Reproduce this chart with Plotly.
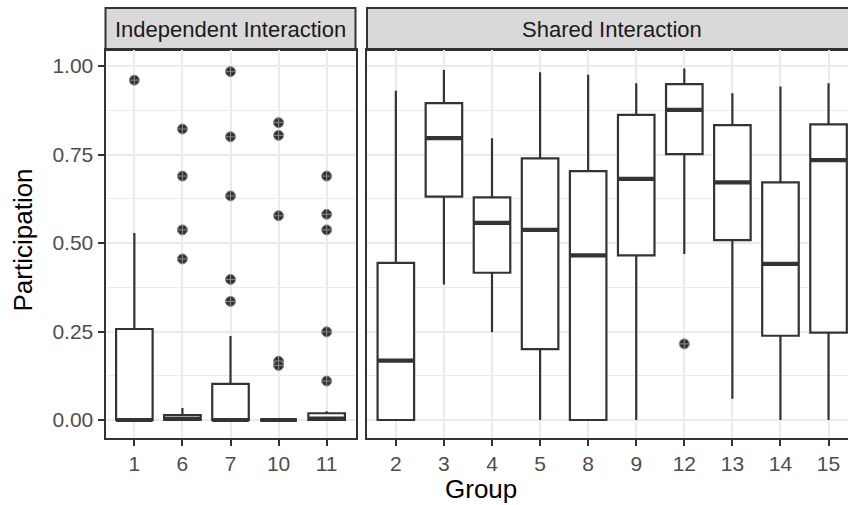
import plotly.graph_objects as go

# ---- data: participation summaries per group -------------------------------
indep_groups = ["1", "6", "7", "10", "11"]
indep_q1 = [0.0, 0.0, 0.0, 0.0, 0.0]
indep_median = [0.0, 0.003, 0.0, 0.0, 0.004]
indep_q3 = [0.257, 0.014, 0.102, 0.0, 0.019]
indep_low = [0.0, 0.0, 0.0, 0.0, 0.0]
indep_high = [0.528, 0.034, 0.237, 0.0, 0.025]
indep_outliers = {
    "1": [0.96],
    "6": [0.822, 0.689, 0.537, 0.455],
    "7": [0.984, 0.80, 0.633, 0.397, 0.335],
    "10": [0.84, 0.804, 0.577, 0.166, 0.154],
    "11": [0.689, 0.581, 0.537, 0.249, 0.110],
}

shared_groups = ["2", "3", "4", "5", "8", "9", "12", "13", "14", "15"]
shared_q1 = [0.0, 0.631, 0.416, 0.200, 0.0, 0.465, 0.751, 0.508, 0.238, 0.247]
shared_median = [0.168, 0.796, 0.557, 0.537, 0.465, 0.681, 0.876, 0.671, 0.441, 0.734]
shared_q3 = [0.444, 0.895, 0.629, 0.739, 0.703, 0.862, 0.949, 0.833, 0.671, 0.835]
shared_low = [0.0, 0.383, 0.248, 0.0, 0.0, 0.0, 0.469, 0.060, 0.0, 0.0]
shared_high = [0.930, 0.989, 0.796, 0.982, 0.975, 0.951, 0.993, 0.923, 0.942, 0.951]
shared_outliers = {"12": [0.215]}

y_ticks = [0.0, 0.25, 0.5, 0.75, 1.0]
y_ticklabels = ["0.00", "0.25", "0.50", "0.75", "1.00"]

# ---- styling --------------------------------------------------------------
W, H = 848, 505
DARK = "#333333"
GRID = "#EBEBEB"
FONT = "Liberation Sans, Arial, Helvetica, sans-serif"
BOX_W = 0.76
LW = 2.0

# panel geometry (pixels)
P_TOP, P_BOT = 50, 438
S_TOP = 8
L_X0, L_X1 = 105.5, 355.5
R_X0 = 367.0
UNIT = (L_X1 - L_X0) / (len(indep_groups) + 0.2)


def px(x):
    return x / W


def py(y):
    return (H - y) / H


fig = go.Figure()


def add_panel(groups, q1, med, q3, low, high, outliers, xa, ya):
    idx = list(range(len(groups)))
    fig.add_trace(go.Box(
        x=idx, q1=q1, median=med, q3=q3, lowerfence=low, upperfence=high,
        width=BOX_W, whiskerwidth=0, boxpoints=False,
        fillcolor="white", line=dict(color=DARK, width=2.2),
        xaxis=xa, yaxis=ya, showlegend=False, hoverinfo="skip",
    ))
    # heavier median bar
    mx, my = [], []
    for i, m in zip(idx, med):
        mx += [i - BOX_W / 2, i + BOX_W / 2, None]
        my += [m, m, None]
    fig.add_trace(go.Scatter(
        x=mx, y=my, mode="lines", line=dict(color=DARK, width=4.2),
        xaxis=xa, yaxis=ya, showlegend=False, hoverinfo="skip",
    ))
    ox, oy = [], []
    for i, g in enumerate(groups):
        for v in outliers.get(g, []):
            ox.append(i)
            oy.append(v)
    fig.add_trace(go.Scatter(
        x=ox, y=oy, mode="markers",
        marker=dict(symbol="circle-cross", size=10, color=DARK,
                    line=dict(width=1, color="#8A8A8A")),
        xaxis=xa, yaxis=ya, showlegend=False, hoverinfo="skip",
    ))


add_panel(indep_groups, indep_q1, indep_median, indep_q3, indep_low,
          indep_high, indep_outliers, "x", "y")
add_panel(shared_groups, shared_q1, shared_median, shared_q3, shared_low,
          shared_high, shared_outliers, "x2", "y2")

y_lo = -(P_BOT - 420) / 354
y_hi = 1 + (66 - P_TOP) / 354
ydom = [py(P_BOT), py(P_TOP)]

tickfont = dict(family=FONT, size=21, color="#4D4D4D")
common_x = dict(
    showgrid=True, gridcolor=GRID, gridwidth=1.6, zeroline=False,
    showline=True, linecolor=DARK, linewidth=LW, mirror=True,
    ticks="outside", ticklen=6, tickwidth=LW, tickcolor=DARK,
    tickfont=tickfont, fixedrange=True,
)
minor_y = dict(tickvals=[0.125, 0.375, 0.625, 0.875], showgrid=True,
               gridcolor=GRID, gridwidth=1, ticks="")

fig.update_layout(
    width=W, height=H,
    margin=dict(l=0, r=0, t=0, b=0),
    paper_bgcolor="white", plot_bgcolor="white",
    font=dict(family=FONT),
    xaxis=dict(domain=[px(L_X0), px(L_X1)], range=[-0.6, len(indep_groups) - 0.4],
               tickvals=list(range(len(indep_groups))), ticktext=indep_groups,
               anchor="y", **common_x),
    xaxis2=dict(domain=[px(R_X0), 1.0],
                range=[-0.6, -0.6 + (W - R_X0) / UNIT],
                tickvals=list(range(len(shared_groups))), ticktext=shared_groups,
                anchor="y2", **common_x),
    yaxis=dict(domain=ydom, range=[y_lo, y_hi], tickvals=y_ticks,
               ticktext=y_ticklabels, showgrid=True, gridcolor=GRID,
               gridwidth=1.6, zeroline=False, showline=True, linecolor=DARK,
               linewidth=LW, mirror=True, ticks="outside", ticklen=6,
               tickwidth=LW, tickcolor=DARK, tickfont=tickfont,
               minor=minor_y, anchor="x", fixedrange=True),
    yaxis2=dict(domain=ydom, range=[y_lo, y_hi], tickvals=y_ticks,
                showticklabels=False, showgrid=True, gridcolor=GRID,
                gridwidth=1.6, zeroline=False, showline=True, linecolor=DARK,
                linewidth=LW, mirror=False, ticks="", minor=minor_y,
                anchor="x2", fixedrange=True),
)

# facet strips
fig.add_shape(type="rect", xref="paper", yref="paper",
              x0=px(L_X0), x1=px(L_X1), y0=py(P_TOP), y1=py(S_TOP),
              fillcolor="#D9D9D9", line=dict(color=DARK, width=LW), layer="below")
fig.add_shape(type="rect", xref="paper", yref="paper",
              x0=px(R_X0), x1=1.02, y0=py(P_TOP), y1=py(S_TOP),
              fillcolor="#D9D9D9", line=dict(color=DARK, width=LW), layer="below")

stripfont = dict(family=FONT, size=22, color="#1A1A1A")
fig.add_annotation(text="Independent Interaction", xref="paper", yref="paper",
                   x=px((L_X0 + L_X1) / 2), y=py((S_TOP + P_TOP) / 2),
                   xanchor="center", yanchor="middle", showarrow=False,
                   font=stripfont)
fig.add_annotation(text="Shared Interaction", xref="paper", yref="paper",
                   x=px(R_X0 + (len(shared_groups) + 0.2) * UNIT / 2),
                   y=py((S_TOP + P_TOP) / 2),
                   xanchor="center", yanchor="middle", showarrow=False,
                   font=stripfont)

titlefont = dict(family=FONT, size=26, color="black")
fig.add_annotation(text="Group", xref="paper", yref="paper",
                   x=px((L_X0 + R_X0 + (len(shared_groups) + 0.2) * UNIT) / 2),
                   y=py(489), xanchor="center", yanchor="middle",
                   showarrow=False, font=titlefont)
fig.add_annotation(text="Participation", xref="paper", yref="paper",
                   x=px(22.5), y=py(240), xanchor="center", yanchor="middle",
                   textangle=-90, showarrow=False, font=titlefont)

fig.write_html("out.html")
